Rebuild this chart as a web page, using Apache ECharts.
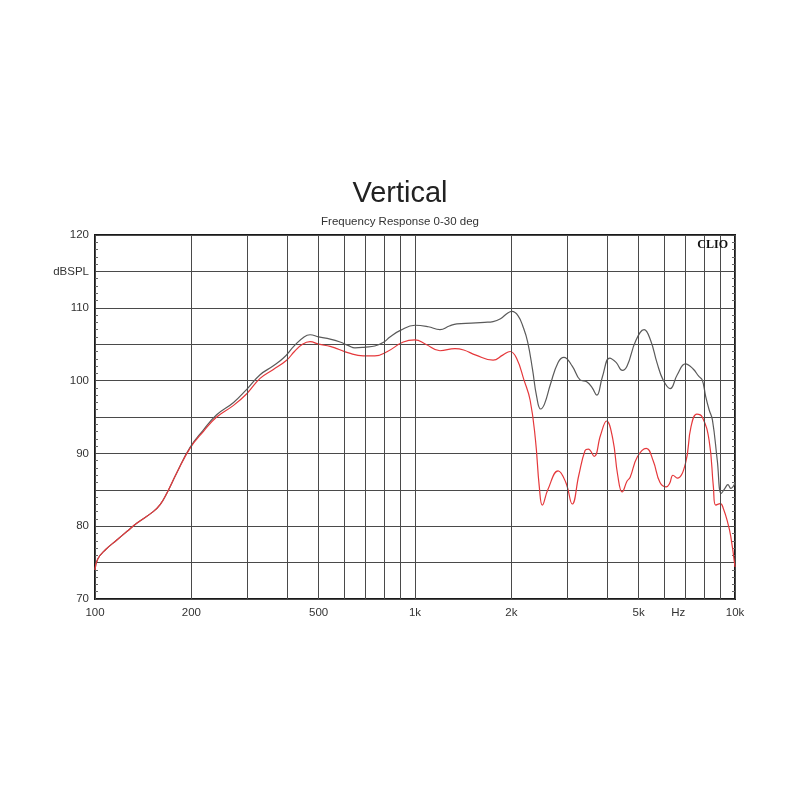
<!DOCTYPE html>
<html>
<head>
<meta charset="utf-8">
<script src="https://cdn.jsdelivr.net/npm/echarts@6/dist/echarts.min.js"></script>
<style>html,body{margin:0;padding:0;background:#fff}#c{width:800px;height:800px}</style>
</head>
<body>
<div id="c"></div>
<script>
// ---- data ----
const freqBlack = [100,102,108,117,126,135,152,160,168,180,198,218,240,271,298,328,360,388,420,450,470,500,543,583,620,649,700,749,800,835,900,1000,1100,1197,1280,1352,1500,1650,1754,1850,1950,2010,2100,2180,2250,2330,2400,2470,2540,2650,2800,2920,3100,3280,3440,3580,3700,3850,4060,4250,4450,4600,4900,5200,5450,5700,5960,6270,6600,7000,7400,7700,7900,8100,8300,8500,8800,9060,9300,9500,9700,10000];
const dbBlack   = [74.0,75.5,76.8,78.1,79.3,80.4,82.0,83.0,84.6,87.3,90.8,93.2,95.3,97.0,98.8,100.8,102.0,103.1,104.8,106.0,106.3,106.0,105.7,105.3,104.8,104.5,104.6,104.75,105.3,106.0,106.9,107.6,107.4,107.0,107.5,107.8,107.9,108.0,108.1,108.5,109.3,109.5,108.9,107.3,105.3,101.5,97.8,96.1,96.8,99.5,102.5,103.2,102.0,100.1,99.85,99.0,98.0,100.5,103.1,102.5,101.4,102.0,105.5,107.0,105.5,102.5,100.1,98.9,100.8,102.3,101.6,100.6,100.1,97.8,96.0,94.6,89.1,84.5,85.2,85.7,85.2,85.9];

const freqRed = [100,102,108,117,126,135,152,160,168,180,198,218,240,271,298,328,360,397,420,445,470,500,543,570,620,689,749,820,919,1000,1080,1197,1333,1420,1550,1754,1880,1983,2080,2190,2290,2380,2446,2500,2600,2800,2960,3100,3250,3400,3480,3630,3800,3970,4150,4300,4440,4600,4700,4950,5280,5550,5830,6100,6250,6400,6600,7000,7290,7600,7900,8300,8560,8700,9000,9200,9500,9700,10000];
const dbRed   = [74.0,75.5,76.8,78.1,79.3,80.4,82.0,83.0,84.6,87.3,90.7,93.0,95.0,96.6,98.2,100.3,101.5,102.8,104.0,105.0,105.35,105.0,104.7,104.4,103.8,103.4,103.4,104.0,105.3,105.6,105.0,104.1,104.4,104.2,103.5,102.8,103.5,104.0,103.0,100.1,97.3,91.8,85.4,82.9,85.0,87.6,86.0,83.05,87.0,90.4,90.6,89.6,92.5,94.45,92.0,87.0,84.7,86.2,86.7,89.5,90.7,89.0,86.0,85.4,85.9,87.0,86.6,88.6,93.7,95.4,95.0,91.8,85.4,82.9,83.1,82.4,80.4,78.6,74.4];

const gridFreqs = [200,300,400,500,600,700,800,900,2000,3000,4000,5000,6000,7000,8000,9000];
const labeledFreqs = {200:'200',500:'500',2000:'2k',5000:'5k'};
const majorXLabels = {100:'100',1000:'1k',10000:'10k'};
const unitLabelFreq = 6650;
const unitLabel = 'Hz';
const yLabelMap = {115:'dBSPL'};

// ---- chart ----
const chart = echarts.init(document.getElementById('c'), null, {renderer:'canvas'});
const labelStyle = {color:'#333', fontSize:11.5, fontFamily:'Liberation Sans, Arial, sans-serif'};

const markData = gridFreqs.map(f => ({
  xAxis: f,
  label: labeledFreqs[f] ? Object.assign({show:true, position:'start', distance:8, formatter: labeledFreqs[f]}, labelStyle) : {show:false}
}));
markData.push({
  xAxis: unitLabelFreq,
  lineStyle:{color:'rgba(0,0,0,0)', width:0},
  label: Object.assign({show:true, position:'start', distance:8, formatter: unitLabel}, labelStyle)
});

const yAxisBase = {
  type:'value', min:70, max:120, interval:5,
  axisLine:{show:false},
  splitLine:{show:true, lineStyle:{color:'#4a4a4a', width:1}},
  axisTick:{show:true, inside:true, length:4, lineStyle:{color:'#444'}},
  minorTick:{show:true, splitNumber:5, length:3, lineStyle:{color:'#666'}},
};

chart.setOption({
  animation:false,
  backgroundColor:'#fff',
  title:[
    {text:'Vertical', left:'center', top:174, textStyle:{fontSize:29, fontWeight:'normal', color:'#222', fontFamily:'Liberation Sans, Arial, sans-serif'}},
    {text:'Frequency Response 0-30 deg', left:'center', top:211, textStyle:{fontSize:11.5, fontWeight:'normal', color:'#333', fontFamily:'Liberation Sans, Arial, sans-serif'}},
    {text:'CLIO', right:67, top:234, textStyle:{fontSize:12, fontWeight:'bold', color:'#111', fontFamily:'Liberation Serif, serif'}}
  ],
  grid:{left:95, right:65, top:235, bottom:201, show:true, borderColor:'#1a1a1a', borderWidth:2, backgroundColor:'transparent'},
  xAxis:{
    type:'log', logBase:10, min:100, max:10000,
    axisLine:{show:false},
    axisTick:{show:false},
    splitLine:{show:true, lineStyle:{color:'#4a4a4a', width:1}},
    axisLabel:Object.assign({margin:8, formatter: v => majorXLabels[v] || ''}, labelStyle)
  },
  yAxis:[
    Object.assign({}, yAxisBase, {position:'left',
      axisLabel:Object.assign({margin:6, formatter: v => (yLabelMap[v] || (v % 10 === 0 ? String(v) : ''))}, labelStyle)}),
    Object.assign({}, yAxisBase, {position:'right', splitLine:{show:false}, axisLabel:{show:false}})
  ],
  series:[
    {
      name:'0 deg', type:'line', data: freqBlack.map((f,i)=>[f, dbBlack[i]]),
      showSymbol:false, smooth:0.45,
      lineStyle:{color:'#5a5a5a', width:1.2}, z:3,
      markLine:{silent:true, symbol:'none', animation:false,
        lineStyle:{color:'#4a4a4a', width:1, type:'solid'},
        data: markData}
    },
    {
      name:'30 deg', type:'line', data: freqRed.map((f,i)=>[f, dbRed[i]]),
      showSymbol:false, smooth:0.45,
      lineStyle:{color:'#e5383b', width:1.2}, z:4
    }
  ]
});
</script>
</body>
</html>
